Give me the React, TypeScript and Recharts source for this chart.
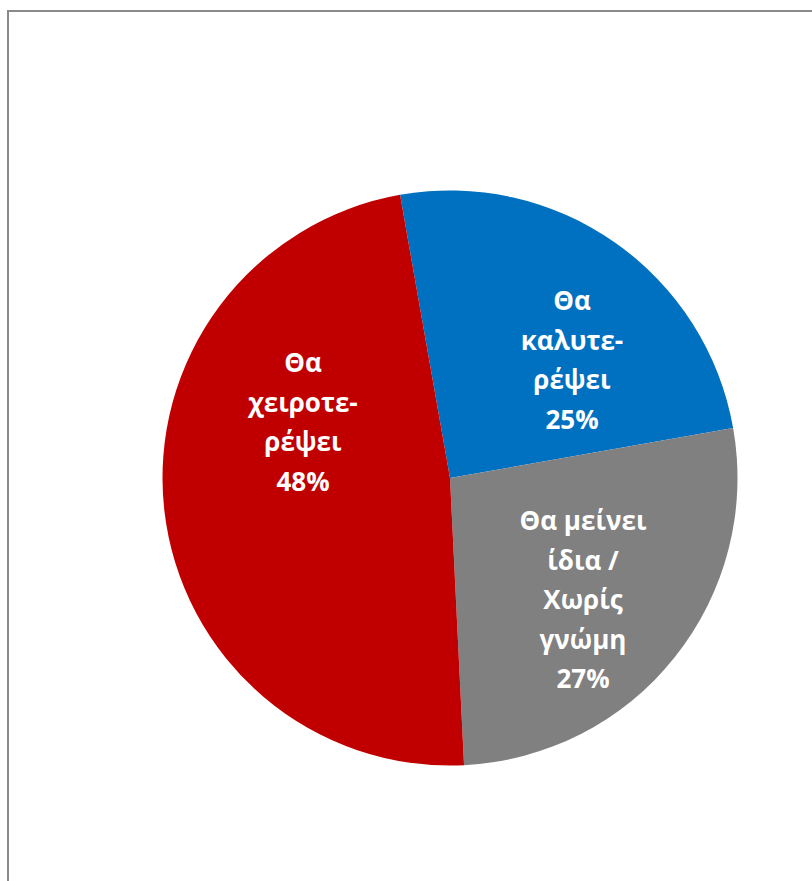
import { PieChart, Pie, Cell } from "recharts";

// slices in drawing order, clockwise from the top
const CATEGORIES = [
  ["Θα", "καλυτε-", "ρέψει"],
  ["Θα μείνει", "ίδια /", "Χωρίς", "γνώμη"],
  ["Θα", "χειροτε-", "ρέψει"],
];
const VALUES = [25, 27, 48];
const COLORS = ["#0070C0", "#808080", "#C00000"];

// where each label block sits, relative to the pie centre
const LABEL_OFFSETS = [
  { dx: 122, dy: -118 },
  { dx: 133, dy: 122 },
  { dx: -147, dy: -56 },
];

const LINE_HEIGHT = 39.5;
const FONT_SIZE = 26;

const chartData = VALUES.map((value, i) => ({
  name: CATEGORIES[i].join(" "),
  value,
}));

function SliceLabel(props: any) {
  const { cx, cy, index, value } = props;
  const lines = [...CATEGORIES[index], `${value}%`];
  const off = LABEL_OFFSETS[index];
  const x = cx + off.dx;
  const top = cy + off.dy - ((lines.length - 1) * LINE_HEIGHT) / 2;
  return (
    <g>
      {lines.map((line, i) => (
        <text
          key={i}
          x={x}
          y={top + i * LINE_HEIGHT + FONT_SIZE * 0.36}
          textAnchor="middle"
          fill="#ffffff"
          fontSize={FONT_SIZE}
          fontWeight="bold"
          fontFamily="'Open Sans', 'Noto Sans', sans-serif"
        >
          {line}
        </text>
      ))}
    </g>
  );
}

export default function App() {
  return (
    <div
      style={{
        position: "relative",
        width: 812,
        height: 881,
        overflow: "hidden",
        background: "#ffffff",
      }}
    >
      <style>{"body{margin:0;overflow:hidden}"}</style>
      <div
        style={{
          position: "absolute",
          left: 7,
          top: 10,
          width: 900,
          height: 1000,
          borderLeft: "2px solid #8a8a8a",
          borderTop: "2px solid #8a8a8a",
        }}
      />
      <PieChart
        width={812}
        height={881}
        margin={{ top: 0, right: 0, bottom: 0, left: 0 }}
        style={{ position: "absolute", left: 0, top: 0 }}
      >
        <Pie
          data={chartData}
          dataKey="value"
          nameKey="name"
          cx={450}
          cy={478}
          outerRadius={287.5}
          startAngle={100}
          endAngle={-260}
          stroke="none"
          labelLine={false}
          label={SliceLabel}
          isAnimationActive={false}
        >
          {chartData.map((_, i) => (
            <Cell key={i} fill={COLORS[i]} />
          ))}
        </Pie>
      </PieChart>
    </div>
  );
}
